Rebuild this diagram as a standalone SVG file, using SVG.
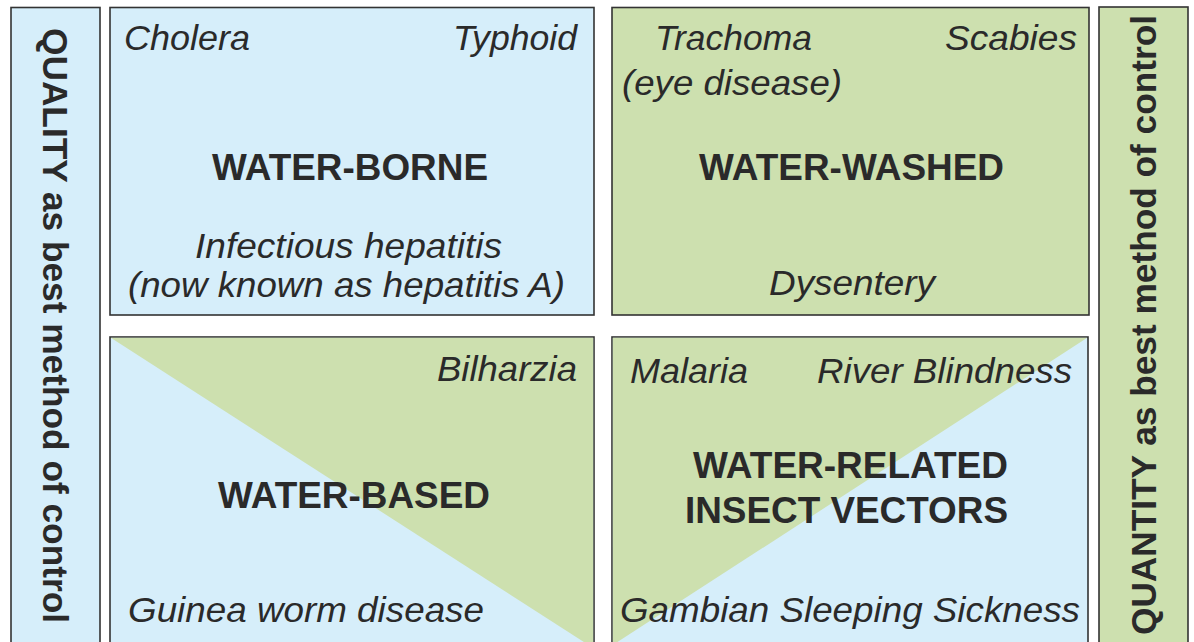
<svg xmlns="http://www.w3.org/2000/svg" width="1194" height="642" viewBox="0 0 1194 642">
<style>
.box{stroke:#333;stroke-width:1.6;}
.blue{fill:#d6eefa;}
.green{fill:#cde0af;}
.it{font-family:"Liberation Sans",Arial,sans-serif;font-style:italic;font-size:35px;fill:#2a2a2a;}
.bd{font-family:"Liberation Sans",Arial,sans-serif;font-weight:bold;font-size:36px;fill:#2a2a2a;}
.vt{font-family:"Liberation Sans",Arial,sans-serif;font-weight:bold;font-size:35px;fill:#2a2a2a;text-anchor:middle;}
</style>
<rect width="1194" height="642" fill="#ffffff"/>
<g id="quality-bar">
<rect class="box blue" x="11" y="7.5" width="89" height="660"/>
<text class="vt" transform="translate(43,325.5) rotate(90)" textLength="595" lengthAdjust="spacingAndGlyphs">QUALITY as best method of control</text>
</g>
<g id="quantity-bar">
<rect class="box green" x="1099" y="7" width="89" height="660"/>
<text class="vt" transform="translate(1156,325) rotate(-90)" textLength="620" lengthAdjust="spacingAndGlyphs">QUANTITY as best method of control</text>
</g>
<g id="water-borne">
<rect class="box blue" x="110" y="7.5" width="484" height="307.5"/>
<text class="it" x="124" y="50" textLength="126" lengthAdjust="spacingAndGlyphs">Cholera</text>
<text class="it" x="453" y="50" textLength="124" lengthAdjust="spacingAndGlyphs">Typhoid</text>
<text class="bd" x="212" y="180" textLength="276" lengthAdjust="spacingAndGlyphs">WATER-BORNE</text>
<text class="it" x="195" y="258" textLength="307" lengthAdjust="spacingAndGlyphs">Infectious hepatitis</text>
<text class="it" x="128" y="297" textLength="437" lengthAdjust="spacingAndGlyphs">(now known as hepatitis A)</text>
</g>
<g id="water-washed">
<rect class="box green" x="612" y="7.5" width="477" height="307.5"/>
<text class="it" x="655" y="50" textLength="157" lengthAdjust="spacingAndGlyphs">Trachoma</text>
<text class="it" x="945" y="50" textLength="132" lengthAdjust="spacingAndGlyphs">Scabies</text>
<text class="it" x="622" y="95" textLength="220" lengthAdjust="spacingAndGlyphs">(eye disease)</text>
<text class="bd" x="699" y="180" textLength="305" lengthAdjust="spacingAndGlyphs">WATER-WASHED</text>
<text class="it" x="769" y="295" textLength="166" lengthAdjust="spacingAndGlyphs">Dysentery</text>
</g>
<g id="water-based">
<rect class="box blue" x="110" y="337" width="484" height="330"/>
<polygon class="green" points="110.8,337.8 593.2,337.8 593.2,648"/>
<text class="it" x="437" y="381" textLength="140" lengthAdjust="spacingAndGlyphs">Bilharzia</text>
<text class="bd" x="218" y="508" textLength="272" lengthAdjust="spacingAndGlyphs">WATER-BASED</text>
<text class="it" x="128" y="622" textLength="356" lengthAdjust="spacingAndGlyphs">Guinea worm disease</text>
</g>
<g id="water-related">
<rect class="box blue" x="612" y="337" width="476" height="330"/>
<polygon class="green" points="612.8,337.8 1087.2,337.8 612.8,645"/>
<text class="it" x="630" y="383" textLength="118" lengthAdjust="spacingAndGlyphs">Malaria</text>
<text class="it" x="817" y="383" textLength="255" lengthAdjust="spacingAndGlyphs">River Blindness</text>
<text class="bd" x="693" y="478" textLength="315" lengthAdjust="spacingAndGlyphs">WATER-RELATED</text>
<text class="bd" x="685" y="523" textLength="323" lengthAdjust="spacingAndGlyphs">INSECT VECTORS</text>
<text class="it" x="620" y="622" textLength="460" lengthAdjust="spacingAndGlyphs">Gambian Sleeping Sickness</text>
</g>
<g id="connectors"></g>
</svg>
